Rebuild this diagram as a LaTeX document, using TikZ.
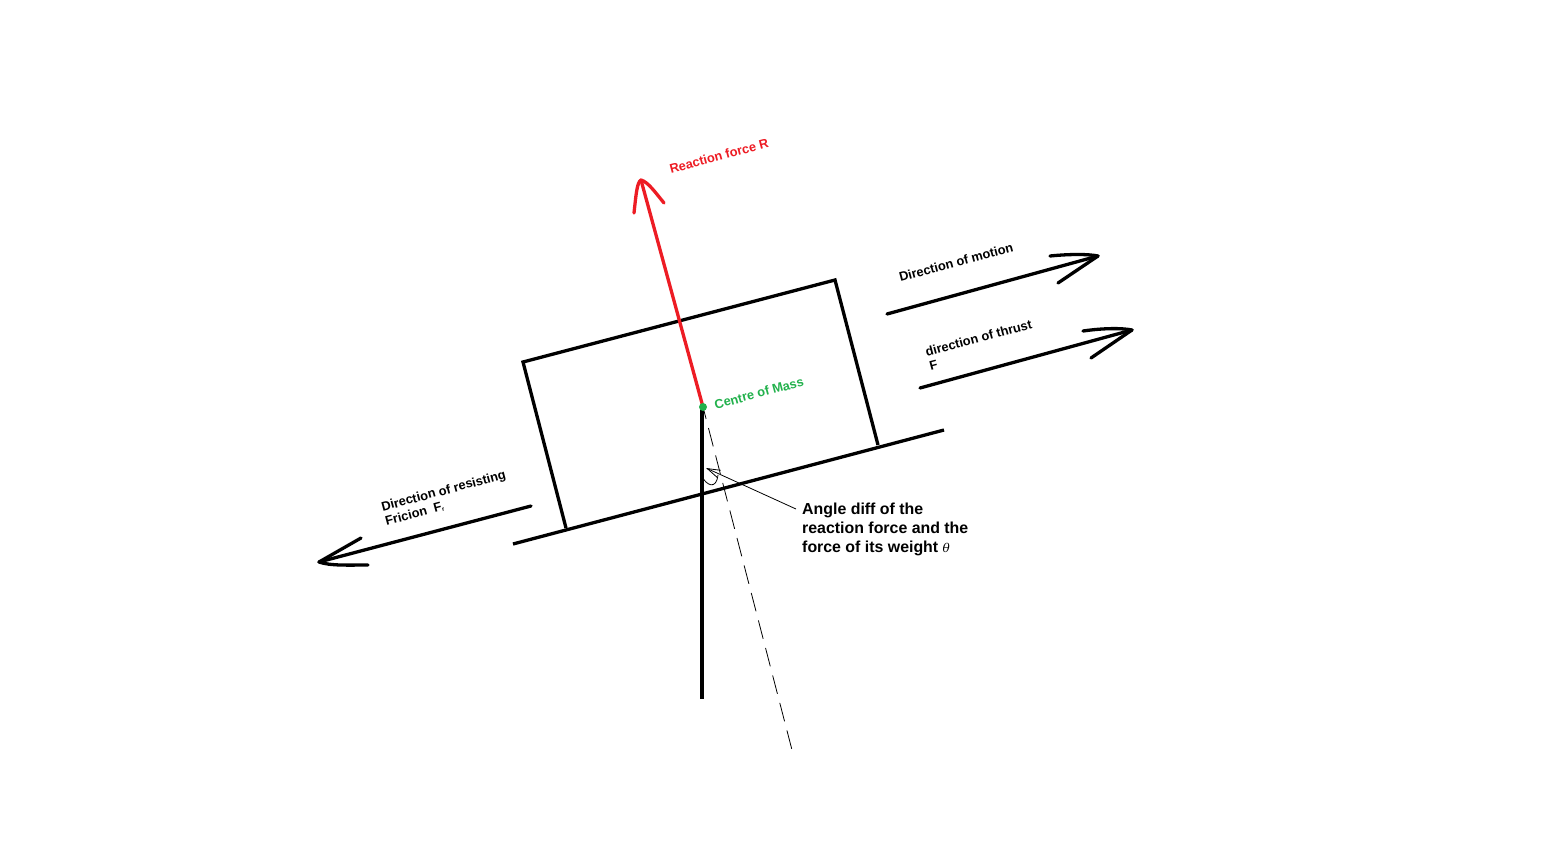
\documentclass[tikz,border=0pt]{standalone}
\usepackage{fontspec}
\setmainfont{Liberation Sans}
\usetikzlibrary{arrows.meta, positioning, calc}
\definecolor{reactionred}{RGB}{237, 28, 36}
\definecolor{massgreen}{RGB}{34, 177, 76}
\tikzset{
    heavy/.style={line width=3.3pt, black},
    barb/.style={line width=3.3pt, line cap=round, line join=round},
    slanted/.style={rotate=15, align=left, inner sep=0pt, font=\fontsize{12.8}{15}\selectfont\bfseries}
}
\begin{document}
\begin{tikzpicture}[x=1pt, y=-1pt]
        \useasboundingbox (0,0) rectangle (1562,862);
        
        % Block corners
        \coordinate (blockA) at (523,362);
        \coordinate (blockB) at (835,280);
        \coordinate (blockC) at (878,445);
        \coordinate (blockD) at (566,528);
        \coordinate (cm) at (703,407);
        
        % Block and slope
        \draw[heavy, line join=miter] (blockD) -- (blockA) -- (blockB) -- (blockC);
        \coordinate (slopeL) at (513,544);
        \coordinate (slopeR) at (944,430);
        \draw[heavy] (slopeL) -- (slopeR);
        
        % Weight and normal lines
        \coordinate (weightEnd) at (702,699);
        \coordinate (normalEnd) at (792,750);
        \draw[heavy] (702,407) -- (weightEnd);
        \draw[line width=0.8pt, dash pattern=on 19pt off 9.4pt, dash phase=6.7pt] (cm) -- (normalEnd);
        
        % Reaction force
        \coordinate (reactionTip) at (641,180);
        \draw[barb, reactionred] (cm) -- (reactionTip);
        \draw[barb, reactionred] (634,213) .. controls (636,195) and (637,182) .. (reactionTip)
            .. controls (648,182) and (655,192) .. (664,203);
        
        % Motion and thrust arrows
        \foreach \name/\xa/\ya/\xb/\yb/\xc/\yc/\xd/\yd in {motion/887/314/1098/256/1050/256/1058/283, thrust/920/388/1132/330/1083/331/1091/358} {
            \coordinate (\name Start) at (\xa,\ya);
            \coordinate (\name Tip) at (\xb,\yb);
            \draw[barb] (\name Start) -- (\name Tip);
            \draw[barb] (\xc,\yc) .. controls (1070+\xb-1098,254+\yb-256) and (1088+\xb-1098,254+\yb-256) .. (\name Tip) -- (\xd,\yd);
        }
        
        % Friction arrow
        \coordinate (frictionStart) at (531,506);
        \coordinate (frictionTip) at (319,562);
        \draw[barb] (frictionStart) -- (frictionTip);
        \draw[barb] (361,538) -- (frictionTip) .. controls (330,566) and (350,565) .. (368,565);
        
        % Angle mark
        \draw[line width=0.8pt] (703,478) .. controls (706,484) and (716,491) .. (718,475);
        
        % Labels
        \node[slanted, reactionred] (reactionLabel) at (719,156) {Reaction force R};
        \node[slanted] (motionLabel) at (956,262) {Direction of motion};
        \node[slanted] (thrustLabel) at (980.5,345) {direction of thrust\\F};
        \node[slanted] (frictionLabel) at (445.5,498) {Direction of resisting\\Fricion\ \ F\raisebox{-1pt}{\fontsize{6}{6}\selectfont r}};
        \node[slanted, massgreen] (cmLabel) at (759,393) {Centre of Mass};
        \node[align=left, inner sep=0pt, anchor=north west, font=\fontsize{15.9}{19}\selectfont\bfseries] (angleLabel) at (802,502.5) {Angle diff of the\\reaction force and the\\force of its weight {\fontsize{12}{12}\selectfont\normalfont\itshape\fontspec{DejaVu Serif}θ}};
        
        % Centre of mass dot and pointer
        \fill[massgreen] (cm) circle (4pt);
        \coordinate (pointerTip) at (706,468);
        \coordinate (pointerStart) at (796,509);
        \draw[line width=0.8pt, -{Straight Barb[length=13pt, width=8pt]}] (pointerStart) -- (pointerTip);
        
    \end{tikzpicture}
\end{document}
